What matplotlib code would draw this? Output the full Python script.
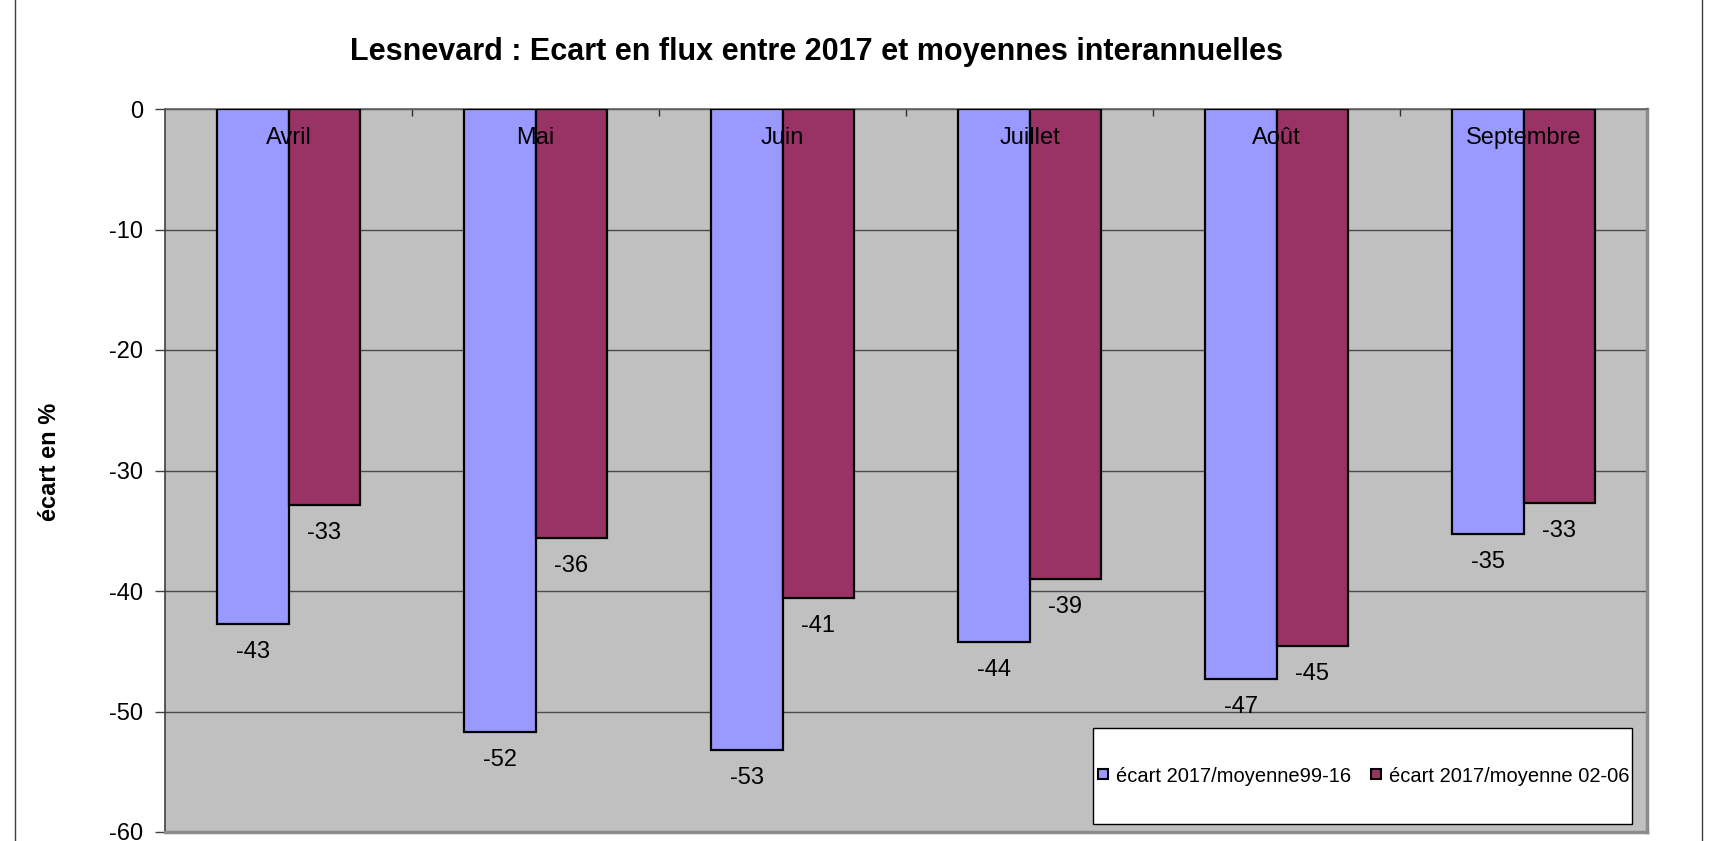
import numpy as np
import matplotlib
matplotlib.use("Agg")
import matplotlib.pyplot as plt
from matplotlib.lines import Line2D
from matplotlib.patches import Rectangle

plt.rcParams['font.family'] = ['Liberation Sans', 'DejaVu Sans']
plt.rcParams['axes.unicode_minus'] = False

# Monthly flow deviations, 2017 vs long-term averages (%)
mois = ['Avril', 'Mai', 'Juin', 'Juillet', 'Août', 'Septembre']
ecart_99_16 = [-42.7, -51.7, -53.2, -44.2, -47.3, -35.3]
ecart_02_06 = [-32.9, -35.6, -40.6, -39.0, -44.6, -32.7]
series_labels = ['écart 2017/moyenne99-16', 'écart 2017/moyenne 02-06']

col_blue = '#9999FF'
col_red = '#993366'
grid_col = '#4a4a4a'
fs = 17

W, H = 1727, 841
fig = plt.figure(figsize=(W / 100, H / 100), dpi=100)
ax = fig.add_axes([165 / W, 1 - 832 / H, 1482 / W, 723 / H])
ax.set_facecolor('#C0C0C0')

x = np.arange(len(mois))
bw = 0.2875
b1 = ax.bar(x - bw / 2, ecart_99_16, bw, color=col_blue, edgecolor='black', linewidth=1.6, zorder=3)
b2 = ax.bar(x + bw / 2, ecart_02_06, bw, color=col_red, edgecolor='black', linewidth=1.6, zorder=3)

# value labels under each bar end
for bars, vals in ((b1, ecart_99_16), (b2, ecart_02_06)):
    for rect, v in zip(bars, vals):
        ax.annotate(f"{v:.0f}", xy=(rect.get_x() + rect.get_width() / 2, v),
                    xytext=(0, -28), textcoords='offset pixels',
                    ha='center', va='center', fontsize=fs, zorder=5)

# month names just under the zero line
for xi, m in zip(x, mois):
    ax.annotate(m, xy=(xi, 0), xytext=(0, -29), textcoords='offset pixels',
                ha='center', va='center', fontsize=fs, zorder=6)

ax.set_xlim(-0.5, len(mois) - 0.5)
ax.set_ylim(-60, 0)
ax.set_yticks(np.arange(-60, 1, 10))
ax.yaxis.grid(True, color=grid_col, linewidth=1.0, zorder=1)
ax.set_axisbelow(True)
ax.tick_params(axis='y', labelsize=fs, length=7, width=1, color='#404040', pad=9)

# category separators on the zero axis
ax.xaxis.tick_top()
ax.set_xticks(np.arange(0.5, len(mois) - 0.5, 1))
ax.set_xticklabels([])
ax.tick_params(axis='x', direction='in', length=5, width=1, color='#303030')

ax.spines['left'].set_color('#404040')
ax.spines['left'].set_linewidth(1.2)
ax.spines['top'].set_color('#606060')
ax.spines['top'].set_linewidth(1.2)
for s in ('right', 'bottom'):
    ax.spines[s].set_color('#8c8c8c')
    ax.spines[s].set_linewidth(2.5)

# legend box
lx0, lx1, ly0, ly1 = 1093, 1632, 824, 728
lb = ((lx0 - 165) / 1482, (832 - ly0) / 723, (lx1 - lx0) / 1482, (ly0 - ly1) / 723)
ax.add_patch(Rectangle(lb[:2], lb[2], lb[3], transform=ax.transAxes,
                       facecolor='white', edgecolor='black', linewidth=1.0, zorder=7))
handles = [Line2D([0], [0], marker='s', linestyle='none', markersize=7,
                  markerfacecolor=c, markeredgecolor='black', markeredgewidth=1.5)
           for c in (col_blue, col_red)]
leg = ax.legend(handles, series_labels, ncol=2, loc='center',
                bbox_to_anchor=(lb[0] + lb[2] / 2, lb[1] + lb[3] / 2),
                frameon=False, fontsize=14.5, handlelength=0.7, handletextpad=0.3,
                columnspacing=0.9, borderpad=0)
leg.set_zorder(8)

fig.text(816 / W, 1 - 52 / H, 'Lesnevard : Ecart en flux entre 2017 et moyennes interannuelles',
         ha='center', va='center', fontsize=22, fontweight='bold')
fig.text(50 / W, 1 - 462 / H, 'écart en %', ha='center', va='center',
         rotation=90, fontsize=17, fontweight='bold')

# outer chart frame
for xf in (15, 1702):
    fig.add_artist(Line2D([xf / W, xf / W], [0, 1], transform=fig.transFigure,
                          color='#404040', linewidth=1.0))

fig.savefig('out.png', dpi=100, facecolor='white')
